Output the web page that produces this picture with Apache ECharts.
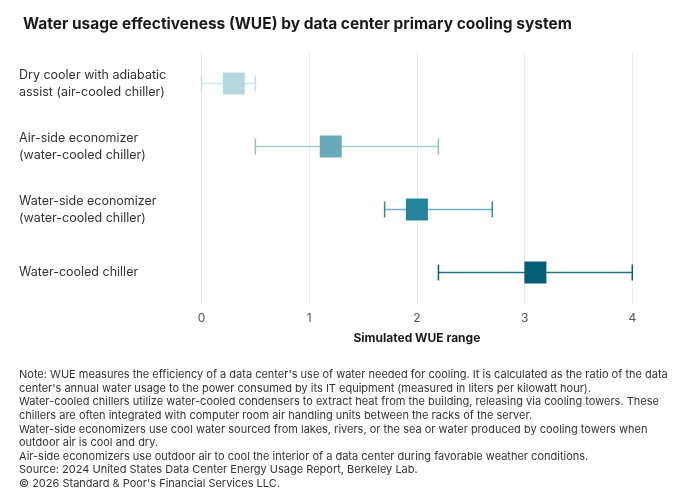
<!DOCTYPE html>
<html><head><meta charset="utf-8">
<script src="https://cdn.jsdelivr.net/npm/echarts@6/dist/echarts.min.js"></script>
<style>html,body{margin:0;padding:0;background:#fff}#c{width:679px;height:504px}</style>
</head><body><div id="c"></div>
<script>
const categories = [
  'Dry cooler with adiabatic\nassist (air-cooled chiller)',
  'Air-side economizer\n(water-cooled chiller)',
  'Water-side economizer\n(water-cooled chiller)',
  'Water-cooled chiller'
];
const lowValues = [0, 0.5, 1.7, 2.2];
const midValues = [0.3, 1.2, 2.0, 3.1];
const highValues = [0.5, 2.2, 2.7, 4.0];
const xTicks = [0, 1, 2, 3, 4];
const boxColors = ['#b7d7e0', '#6aaabb', '#23849b', '#035d74'];
const whiskerColors = ['#d2e7ec', '#a2cdd8', '#6fb4c4', '#2a7186'];
const capColors = ['#c4dfe6', '#8fc1ce', '#2a8aa0', '#035d74'];
const noteLines = [
  "Note: WUE measures the efficiency of a data center's use of water needed for cooling. It is calculated as the ratio of the data",
  "center's annual water usage to the power consumed by its IT equipment (measured in liters per kilowatt hour).",
  "Water-cooled chillers utilize water-cooled condensers to extract heat from the building, releasing via cooling towers. These",
  "chillers are often integrated with computer room air handling units between the racks of the server.",
  "Water-side economizers use cool water sourced from lakes, rivers, or the sea or water produced by cooling towers when",
  "outdoor air is cool and dry.",
  "Air-side economizers use outdoor air to cool the interior of a data center during favorable weather conditions.",
  "Source: 2024 United States Data Center Energy Usage Report, Berkeley Lab.",
  "\u00a9 2026 Standard & Poor's Financial Services LLC."
];

const FONT = 'Inter, "Noto Sans", sans-serif';
const chart = echarts.init(document.getElementById('c'), null, {renderer: 'canvas'});
const rangeData = categories.map((c, i) => [i, lowValues[i], highValues[i]]);
const midData = categories.map((c, i) => ({value: [midValues[i], i], itemStyle: {color: boxColors[i], opacity: 1}}));

chart.setOption({
  animation: false,
  title: {
    text: 'Water usage effectiveness (WUE) by data center primary cooling system',
    left: 18, top: 11,
    textStyle: {fontFamily: FONT, fontSize: 15.5, fontWeight: 'bold', color: '#1a1a1a'}
  },
  grid: {left: 201.5, right: 46.7, top: 52, bottom: 200},
  xAxis: {
    type: 'value', min: 0, max: 4, interval: 1,
    axisLine: {show: false}, axisTick: {show: false},
    splitLine: {show: true, lineStyle: {color: '#ebebeb', width: 1}},
    axisLabel: {fontFamily: FONT, fontSize: 12, color: '#555', margin: 8,
      formatter: v => xTicks.includes(v) ? String(v) : ''},
    name: 'Simulated WUE range', nameLocation: 'middle', nameGap: 28,
    nameTextStyle: {fontFamily: FONT, fontSize: 12, fontWeight: 'bold', color: '#1a1a1a'}
  },
  yAxis: {
    type: 'category', data: categories, inverse: true,
    axisLine: {show: false}, axisTick: {show: false}, splitLine: {show: false},
    axisLabel: {align: 'left', margin: 182.5, fontFamily: FONT, fontSize: 12.5,
      color: '#333', lineHeight: 16.5}
  },
  series: [
    {
      type: 'custom',
      data: rangeData,
      encode: {x: [1, 2], y: 0},
      renderItem: function (params, api) {
        const i = api.value(0);
        const p1 = api.coord([api.value(1), i]);
        const p2 = api.coord([api.value(2), i]);
        const h = 16;
        return {
          type: 'group',
          children: [
            {type: 'line', shape: {x1: p1[0], y1: p1[1], x2: p2[0], y2: p2[1]},
              style: {stroke: whiskerColors[i], lineWidth: 1.5}},
            {type: 'line', shape: {x1: p1[0], y1: p1[1] - h / 2, x2: p1[0], y2: p1[1] + h / 2},
              style: {stroke: capColors[i], lineWidth: 1.5}},
            {type: 'line', shape: {x1: p2[0], y1: p2[1] - h / 2, x2: p2[0], y2: p2[1] + h / 2},
              style: {stroke: capColors[i], lineWidth: 1.5}}
          ]
        };
      },
      z: 2
    },
    {
      type: 'scatter',
      symbol: 'rect',
      symbolSize: 22,
      itemStyle: {opacity: 1},
      data: midData,
      z: 3
    }
  ],
  graphic: [{
    type: 'text', left: 19, top: 368,
    style: {text: noteLines.join('\n'), fontFamily: FONT, fontSize: 11,
      lineHeight: 13.6, fill: '#333'}
  }]
});
</script></body></html>
